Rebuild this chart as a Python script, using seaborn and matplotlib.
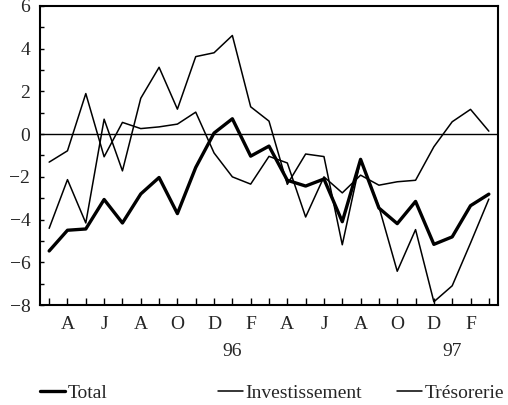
import numpy as np
import pandas as pd
import matplotlib
matplotlib.use("Agg")
import matplotlib.pyplot as plt
from matplotlib.lines import Line2D
from matplotlib.ticker import MultipleLocator
import seaborn as sns

# Monthly series, March 1995 to March 1997
months = ["M", "A", "M", "J", "J", "A", "S", "O", "N", "D", "J", "F",
          "M", "A", "M", "J", "J", "A", "S", "O", "N", "D", "J", "F", "M"]
total = [-5.47, -4.50, -4.44, -3.06, -4.16, -2.80, -2.03, -3.72, -1.56, 0.05,
         0.72, -1.03, -0.56, -2.16, -2.43, -2.10, -4.10, -1.18, -3.46, -4.19,
         -3.15, -5.16, -4.81, -3.35, -2.81]
investissement = [-1.31, -0.78, 1.90, -1.06, 0.55, 0.26, 0.34, 0.47, 1.03, -0.88,
                  -2.00, -2.34, -1.04, -1.35, -3.88, -2.00, -2.75, -1.92, -2.39, -2.23,
                  -2.16, -0.59, 0.58, 1.16, 0.14]
tresorerie = [-4.41, -2.13, -4.16, 0.70, -1.72, 1.68, 3.13, 1.17, 3.63, 3.81,
              4.62, 1.28, 0.61, -2.35, -0.93, -1.05, -5.18, -1.20, -3.40, -6.42,
              -4.47, -7.85, -7.10, -5.10, -3.04]
year_labels = {10: "96", 22: "97"}

FS = 14

sns.set_theme(style="white")
plt.rcParams["font.family"] = ["Liberation Serif", "DejaVu Serif"]
plt.rcParams["font.size"] = FS

df = pd.DataFrame({"t": np.arange(len(months)), "Total": total,
                   "Investissement": investissement, "Trésorerie": tresorerie})

fig = plt.figure(figsize=(5.08, 4.05), dpi=100)
ax = fig.add_axes([40 / 508, 1 - 305 / 405, 458 / 508, 299 / 405])

sns.lineplot(data=df, x="t", y="Investissement", ax=ax, color="black", lw=1.1)
sns.lineplot(data=df, x="t", y="Trésorerie", ax=ax, color="black", lw=1.1)
sns.lineplot(data=df, x="t", y="Total", ax=ax, color="black", lw=2.4)
ax.axhline(0, color="black", lw=1.0, zorder=0)

ax.set_xlim(-0.5, len(months) - 0.5)
ax.set_ylim(-8, 6)
ax.set_xlabel("")
ax.set_ylabel("")

ax.set_xticks(np.arange(len(months)))
ax.set_xticklabels([m if i % 2 == 1 else "" for i, m in enumerate(months)])
ax.yaxis.set_major_locator(MultipleLocator(2))
ax.yaxis.set_minor_locator(MultipleLocator(1))
ax.tick_params(axis="x", which="major", direction="in", length=5, width=1,
               color="black", pad=8, labelsize=FS, bottom=True)
ax.tick_params(axis="y", which="both", direction="in", length=3, width=1,
               color="black", pad=7, labelsize=FS, left=True)

for s in ax.spines.values():
    s.set_color("black")
    s.set_linewidth(1.5)

for i, lab in year_labels.items():
    ax.text(i, -0.157, lab, transform=ax.get_xaxis_transform(),
            ha="center", va="center", fontsize=FS)

# Legend entries placed individually along the bottom
entries = [("Total", 2.4, 40), ("Investissement", 1.1, 218), ("Trésorerie", 1.1, 397)]
for name, lw, xpx in entries:
    h = Line2D([], [], color="black", lw=lw)
    fig.legend([h], [name], loc="center left",
               bbox_to_anchor=(xpx / 508, 1 - 393 / 405), frameon=False,
               handlelength=1.3, handletextpad=0.1, borderpad=0, borderaxespad=0,
               fontsize=FS)

fig.savefig("out.png", dpi=100)
